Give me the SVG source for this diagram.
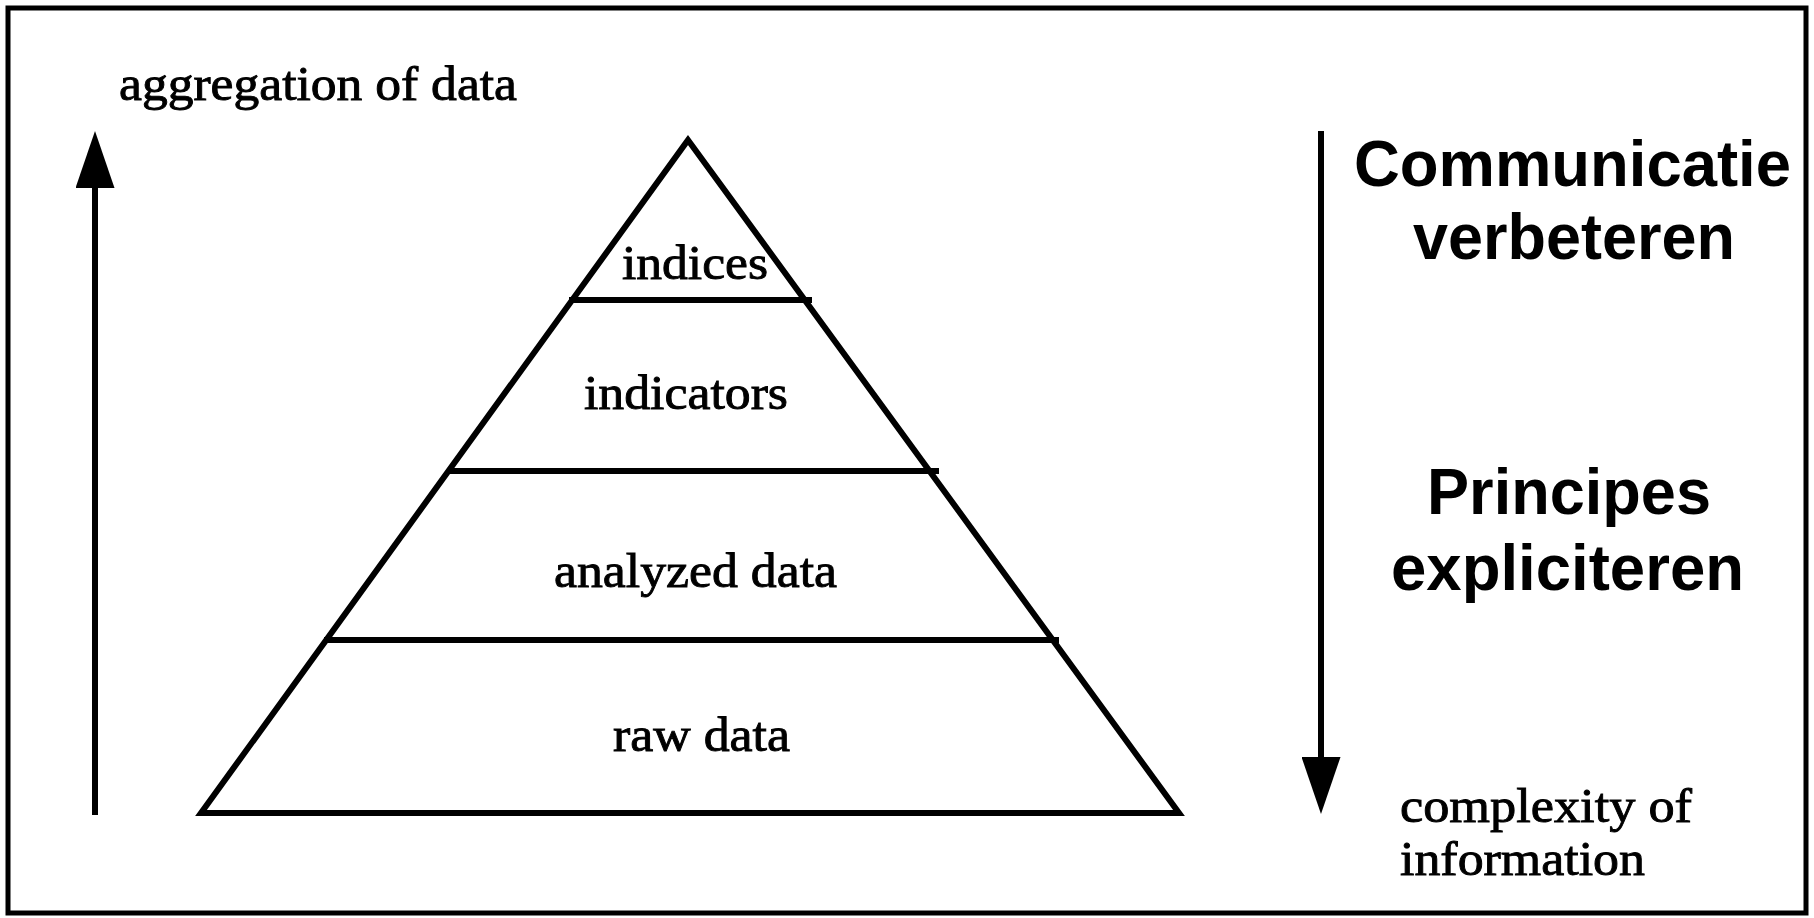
<svg xmlns="http://www.w3.org/2000/svg" width="1814" height="918" viewBox="0 0 1814 918">
  <style>
    .ln { stroke: #000; stroke-width: 6; fill: none; }
    .fr { stroke: #000; stroke-width: 5; fill: none; }
    .serif { font-family: "Liberation Serif", "Times New Roman", serif; font-size: 48px; fill: #000; stroke: #000; stroke-width: 0.9; }
    .sans { font-family: "Liberation Sans", Arial, sans-serif; font-size: 64px; font-weight: bold; fill: #000; }
  </style>
  <defs>
    <marker id="head" markerUnits="userSpaceOnUse" markerWidth="57" markerHeight="39" refX="0" refY="19.5" orient="auto" viewBox="0 0 57 39">
      <path d="M0,0 L57,19.5 L0,39 Z" fill="#000"/>
    </marker>
  </defs>
  <rect width="1814" height="918" fill="#fff"/>
  <g id="frame">
    <rect x="8" y="8" width="1798" height="905" class="fr"/>
  </g>
  <g id="pyramid">
    <polygon points="688,140 201,813 1179,813" class="ln" stroke-linejoin="miter"/>
    <line x1="569" y1="300" x2="812" y2="300" class="ln"/>
    <line x1="447" y1="471" x2="939" y2="471" class="ln"/>
    <line x1="324" y1="640" x2="1059" y2="640" class="ln"/>
  </g>
  <g id="layer-indices">
    <text x="622" y="279" class="serif" textLength="146" lengthAdjust="spacingAndGlyphs">indices</text>
  </g>
  <g id="layer-indicators">
    <text x="584" y="409" class="serif" textLength="204" lengthAdjust="spacingAndGlyphs">indicators</text>
  </g>
  <g id="layer-analyzed">
    <text x="554" y="587" class="serif" textLength="283" lengthAdjust="spacingAndGlyphs">analyzed data</text>
  </g>
  <g id="layer-raw">
    <text x="613" y="751" class="serif" textLength="177" lengthAdjust="spacingAndGlyphs">raw data</text>
  </g>
  <g id="connectors">
    <line id="arrow-aggregation" x1="95" y1="815" x2="95" y2="188" stroke="#000" stroke-width="6" marker-end="url(#head)"/>
    <line id="arrow-complexity" x1="1321" y1="131" x2="1321" y2="757" stroke="#000" stroke-width="6" marker-end="url(#head)"/>
  </g>
  <g id="label-aggregation">
    <text x="119" y="100" class="serif" textLength="398" lengthAdjust="spacingAndGlyphs">aggregation of data</text>
  </g>
  <g id="label-complexity">
    <text x="1400" y="822" class="serif" textLength="292" lengthAdjust="spacingAndGlyphs">complexity of</text>
    <text x="1400" y="875" class="serif" textLength="245" lengthAdjust="spacingAndGlyphs">information</text>
  </g>
  <g id="label-communicatie">
    <text x="1354" y="186" class="sans" textLength="437" lengthAdjust="spacingAndGlyphs">Communicatie</text>
    <text x="1413" y="259" class="sans" textLength="322" lengthAdjust="spacingAndGlyphs">verbeteren</text>
  </g>
  <g id="label-principes">
    <text x="1427" y="514" class="sans" textLength="284" lengthAdjust="spacingAndGlyphs">Principes</text>
    <text x="1391" y="590" class="sans" textLength="353" lengthAdjust="spacingAndGlyphs">expliciteren</text>
  </g>
</svg>
